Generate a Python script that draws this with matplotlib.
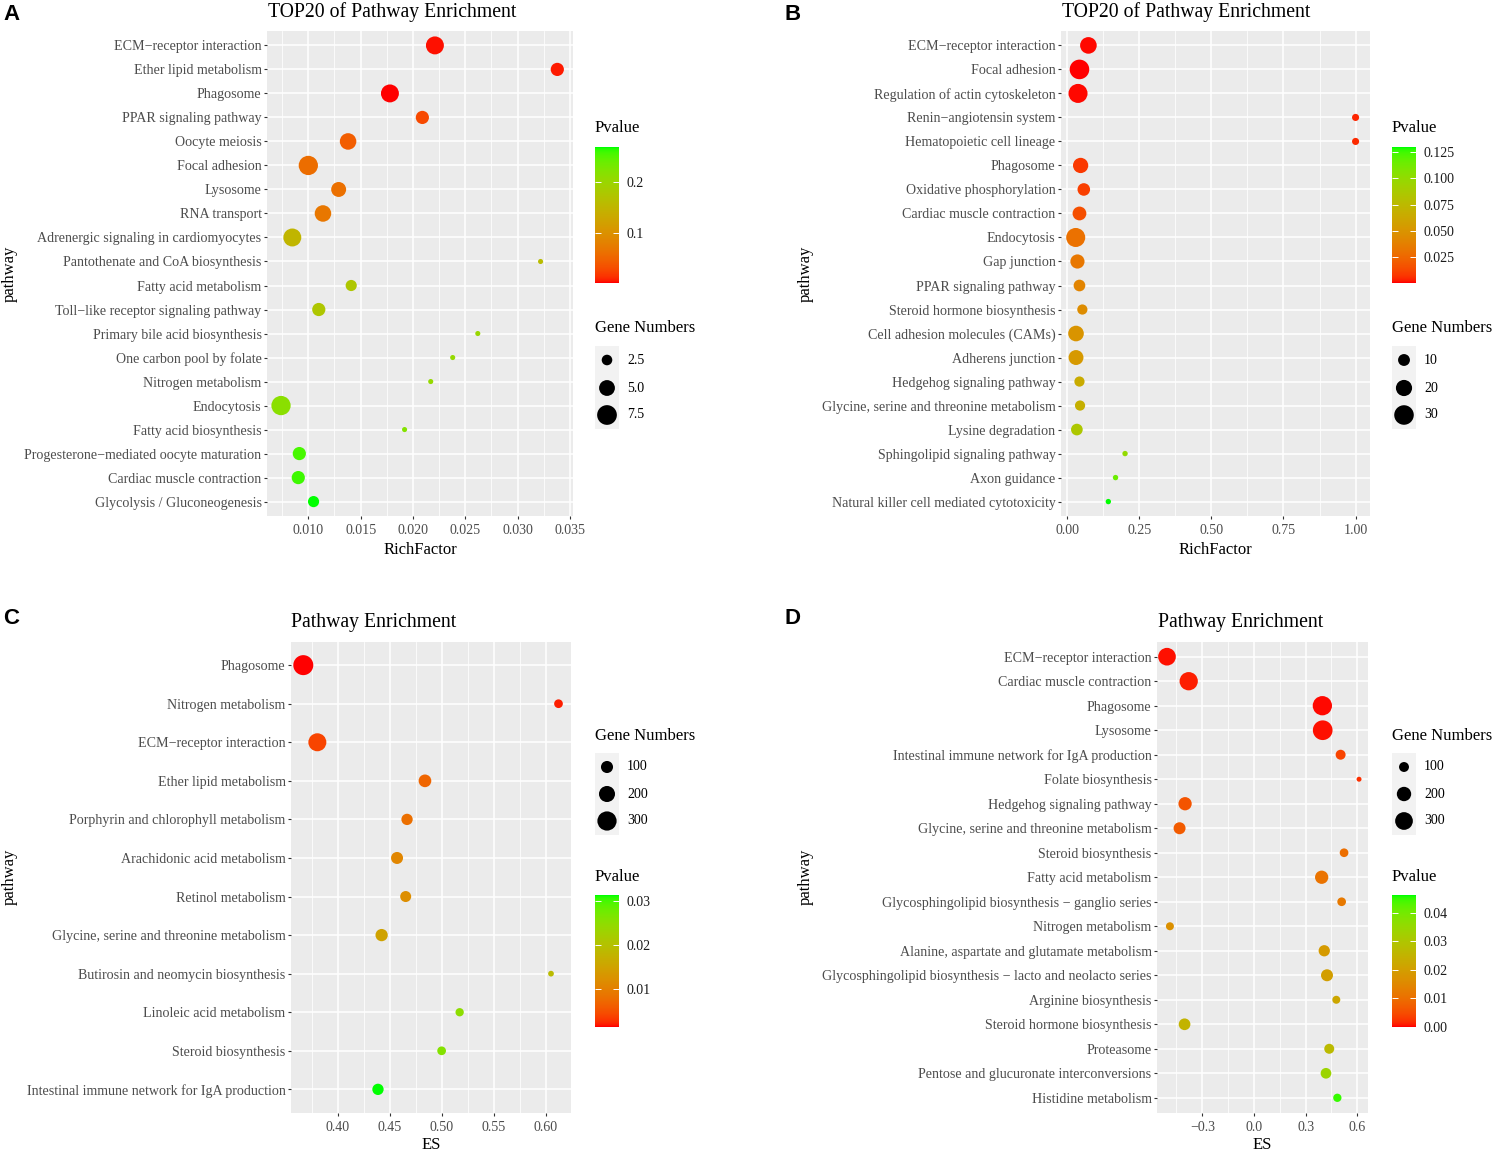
import numpy as np
import matplotlib
matplotlib.use('Agg')
import matplotlib.pyplot as plt
from matplotlib.colors import ListedColormap, Normalize
from matplotlib.patches import Rectangle
from matplotlib.ticker import MultipleLocator, FuncFormatter
from matplotlib.cm import ScalarMappable

plt.rcParams['font.family'] = ['Liberation Serif', 'DejaVu Serif']
plt.rcParams['axes.unicode_minus'] = True

# ---------------- data ----------------
a_labels = ["ECM−receptor interaction", "Ether lipid metabolism", "Phagosome", "PPAR signaling pathway",
            "Oocyte meiosis", "Focal adhesion", "Lysosome", "RNA transport",
            "Adrenergic signaling in cardiomyocytes", "Pantothenate and CoA biosynthesis",
            "Fatty acid metabolism", "Toll−like receptor signaling pathway", "Primary bile acid biosynthesis",
            "One carbon pool by folate", "Nitrogen metabolism", "Endocytosis", "Fatty acid biosynthesis",
            "Progesterone−mediated oocyte maturation", "Cardiac muscle contraction",
            "Glycolysis / Gluconeogenesis"]
a_rich = [0.0221, 0.0338, 0.0178, 0.0209, 0.0138, 0.0100, 0.0129, 0.0114, 0.00847, 0.0322,
          0.0141, 0.0110, 0.0262, 0.0238, 0.0217, 0.00739, 0.0192, 0.00914, 0.00904, 0.0105]
a_genes = [7, 4, 7, 4, 6, 8, 5, 6, 7, 1, 3, 4, 1, 1, 1, 8, 1, 4, 4, 3]
a_pval = [0.006, 0.008, 0.004, 0.03, 0.045, 0.06, 0.063, 0.07, 0.15, 0.16,
          0.175, 0.175, 0.2, 0.205, 0.205, 0.215, 0.22, 0.255, 0.258, 0.268]

b_labels = ["ECM−receptor interaction", "Focal adhesion", "Regulation of actin cytoskeleton",
            "Renin−angiotensin system", "Hematopoietic cell lineage", "Phagosome",
            "Oxidative phosphorylation", "Cardiac muscle contraction", "Endocytosis", "Gap junction",
            "PPAR signaling pathway", "Steroid hormone biosynthesis", "Cell adhesion molecules (CAMs)",
            "Adherens junction", "Hedgehog signaling pathway", "Glycine, serine and threonine metabolism",
            "Lysine degradation", "Sphingolipid signaling pathway", "Axon guidance",
            "Natural killer cell mediated cytotoxicity"]
b_rich = [0.074, 0.043, 0.038, 1.0, 1.0, 0.047, 0.058, 0.043, 0.030, 0.036,
          0.043, 0.053, 0.031, 0.031, 0.043, 0.045, 0.034, 0.201, 0.168, 0.143]
b_genes = [24, 34, 32, 3, 3, 20, 13, 16, 32, 17, 11, 8, 21, 19, 8, 8, 11, 1, 1, 1]
b_pval = [0.001, 0.0005, 0.001, 0.004, 0.005, 0.008, 0.01, 0.015, 0.03, 0.033,
          0.04, 0.045, 0.05, 0.053, 0.065, 0.068, 0.085, 0.1, 0.115, 0.13]

c_labels = ["Phagosome", "Nitrogen metabolism", "ECM−receptor interaction", "Ether lipid metabolism",
            "Porphyrin and chlorophyll metabolism", "Arachidonic acid metabolism", "Retinol metabolism",
            "Glycine, serine and threonine metabolism", "Butirosin and neomycin biosynthesis",
            "Linoleic acid metabolism", "Steroid biosynthesis",
            "Intestinal immune network for IgA production"]
c_es = [0.367, 0.612, 0.3805, 0.4838, 0.4666, 0.457, 0.4653, 0.4422, 0.6048, 0.5171, 0.4998, 0.4387]
c_genes = [370, 46, 294, 131, 98, 114, 91, 121, 3, 39, 46, 98]
c_pval = [0.0014, 0.002, 0.004, 0.007, 0.008, 0.011, 0.012, 0.015, 0.019, 0.025, 0.026, 0.0314]

d_labels = ["ECM−receptor interaction", "Cardiac muscle contraction", "Phagosome", "Lysosome",
            "Intestinal immune network for IgA production", "Folate biosynthesis",
            "Hedgehog signaling pathway", "Glycine, serine and threonine metabolism",
            "Steroid biosynthesis", "Fatty acid metabolism",
            "Glycosphingolipid biosynthesis − ganglio series", "Nitrogen metabolism",
            "Alanine, aspartate and glutamate metabolism",
            "Glycosphingolipid biosynthesis − lacto and neolacto series", "Arginine biosynthesis",
            "Steroid hormone biosynthesis", "Proteasome", "Pentose and glucuronate interconversions",
            "Histidine metabolism"]
d_es = [-0.505, -0.379, 0.397, 0.399, 0.503, 0.61, -0.40, -0.432, 0.523, 0.393,
        0.509, -0.488, 0.408, 0.424, 0.478, -0.403, 0.437, 0.418, 0.484]
d_genes = [334, 357, 396, 412, 112, 34, 192, 158, 87, 192, 87, 75, 141, 158, 75, 151, 112, 127, 80]
d_pval = [0.0005, 0.001, 0.0003, 0.0005, 0.004, 0.002, 0.006, 0.007, 0.01, 0.011,
          0.012, 0.017, 0.019, 0.02, 0.022, 0.025, 0.027, 0.034, 0.045]

a_size_breaks = [2.5, 5.0, 7.5]
b_size_breaks = [10, 20, 30]
c_size_breaks = [100, 200, 300]
d_size_breaks = [100, 200, 300]

# ---------------- colour map: red -> green interpolated in CIELAB ----------------
def srgb_to_lab(rgb):
    rgb = np.asarray(rgb, float)
    lin = np.where(rgb <= 0.04045, rgb / 12.92, ((rgb + 0.055) / 1.055) ** 2.4)
    M = np.array([[0.4124, 0.3576, 0.1805], [0.2126, 0.7152, 0.0722], [0.0193, 0.1192, 0.9505]])
    xyz = M @ lin / np.array([0.95047, 1.0, 1.08883])
    f = np.where(xyz > 0.008856, np.cbrt(xyz), 7.787 * xyz + 16 / 116)
    return np.array([116 * f[1] - 16, 500 * (f[0] - f[1]), 200 * (f[1] - f[2])])

def lab_to_srgb(lab):
    L, a, b = lab
    fy = (L + 16) / 116
    fx = fy + a / 500
    fz = fy - b / 200
    f = np.array([fx, fy, fz])
    xyz = np.where(f ** 3 > 0.008856, f ** 3, (f - 16 / 116) / 7.787) * np.array([0.95047, 1.0, 1.08883])
    Minv = np.linalg.inv(np.array([[0.4124, 0.3576, 0.1805], [0.2126, 0.7152, 0.0722], [0.0193, 0.1192, 0.9505]]))
    lin = np.clip(Minv @ xyz, 0, 1)
    rgb = np.where(lin <= 0.0031308, 12.92 * lin, 1.055 * lin ** (1 / 2.4) - 0.055)
    return np.clip(rgb, 0, 1)

lab_r = srgb_to_lab([1, 0, 0])
lab_g = srgb_to_lab([0, 1, 0])
cmap = ListedColormap([lab_to_srgb(lab_r + t * (lab_g - lab_r)) for t in np.linspace(0, 1, 256)])

# ---------------- layout helpers ----------------
W, H = 1500, 1154
fig = plt.figure(figsize=(15, 11.54), dpi=100)

def px_axes(x0, y0, x1, y1):
    return fig.add_axes([x0 / W, 1 - y1 / H, (x1 - x0) / W, (y1 - y0) / H])

ov = fig.add_axes([0, 0, 1, 1], zorder=10)
ov.set_xlim(0, W)
ov.set_ylim(H, 0)
ov.axis('off')

TICKC = '#4D4D4D'

def minus_fmt(fmt):
    return FuncFormatter(lambda v, pos: (fmt % v).replace('-', '\u2212'))

def panel(box, labels, x, genes, pval, areafn, norm, xlim, xticks, minor, fmt):
    ax = px_axes(*box)
    ax.set_facecolor('#EBEBEB')
    n = len(labels)
    y = np.arange(n)
    s = 0.5184 * areafn(np.asarray(genes, float))
    ax.scatter(x, y, s=s, c=pval, cmap=cmap, norm=norm, edgecolors='none', zorder=3)
    ax.set_xlim(*xlim)
    ax.set_ylim(n - 0.4, -0.6)
    ax.set_yticks(y)
    ax.set_yticklabels(labels)
    ax.set_xticks(xticks)
    ax.xaxis.set_major_formatter(minus_fmt(fmt))
    ax.xaxis.set_minor_locator(MultipleLocator(minor))
    ax.grid(which='major', color='white', lw=1.1)
    ax.grid(which='minor', axis='x', color='white', lw=0.55)
    ax.set_axisbelow(True)
    for sp in ax.spines.values():
        sp.set_visible(False)
    ax.tick_params(which='major', length=2.3, width=0.8, color='#333333',
                   labelsize=10.1, labelcolor=TICKC, pad=1.6)
    ax.tick_params(axis='x', which='major', pad=3.8)
    ax.tick_params(which='minor', length=0)
    return ax

def colorbar(box, norm, ticks, fmt):
    cax = px_axes(*box)
    sm = ScalarMappable(norm=norm, cmap=cmap)
    cb = fig.colorbar(sm, cax=cax, ticks=ticks, format=fmt)
    cb.outline.set_visible(False)
    cax.tick_params(direction='in', length=4.5, width=0.7, color='white',
                    labelsize=10, labelcolor='#1a1a1a', left=True, right=True, pad=5.5)

def size_legend(x0, y_title, ys, breaks, areafn):
    ov.text(x0, y_title, "Gene Numbers", fontsize=12, va='center', ha='left')
    ov.add_patch(Rectangle((x0, ys[0] - 14), 24, ys[-1] - ys[0] + 28, facecolor='#F2F2F2',
                           edgecolor='none'))
    ov.scatter([x0 + 12] * len(breaks), ys, s=0.5184 * areafn(np.asarray(breaks, float)) * 1.12,
               color='black', edgecolors='none')
    for yy, b in zip(ys, breaks):
        ov.text(x0 + 32, yy, f"{b:g}" if b >= 10 else f"{b:.1f}", fontsize=10, va='center', ha='left')

area_a = lambda c: 26 + 49.4 * (c - 1)
area_b = lambda c: 29 + 10.76 * (c - 1)
area_c = lambda c: 30 + 1.0 * c
area_d = lambda c: -8 + 0.96 * c

norm_a = Normalize(0.0033, 0.268)
norm_b = Normalize(0.0002, 0.130)
norm_c = Normalize(0.0014, 0.0314)
norm_d = Normalize(0.0, 0.0463)

# Panel A
panel((267, 31, 573, 516), a_labels, a_rich, a_genes, a_pval, area_a, norm_a,
      (0.00605, 0.0353), [0.010, 0.015, 0.020, 0.025, 0.030, 0.035], 0.0025, '%.3f')
# Panel B
panel((1061, 31, 1370, 516), b_labels, b_rich, b_genes, b_pval, area_b, norm_b,
      (-0.021, 1.05), [0.0, 0.25, 0.5, 0.75, 1.0], 0.125, '%.2f')
# Panel C
panel((291, 642, 571, 1112.5), c_labels, c_es, c_genes, c_pval, area_c, norm_c,
      (0.3552, 0.624), [0.40, 0.45, 0.50, 0.55, 0.60], 0.025, '%.2f')
# Panel D
panel((1157, 642, 1368, 1112.5), d_labels, d_es, d_genes, d_pval, area_d, norm_d,
      (-0.563, 0.662), [-0.3, 0.0, 0.3, 0.6], 0.15, '%.1f')

# titles, axis labels, panel letters
for (x, y, t) in [(268, 12.5, "TOP20 of Pathway Enrichment"), (1062, 12.5, "TOP20 of Pathway Enrichment"),
                  (291, 623, "Pathway Enrichment"), (1158, 623, "Pathway Enrichment")]:
    ov.text(x, y, t, fontsize=14.2, ha='left', va='center')
for (x, y, t) in [(420, 550, "RichFactor"), (1215.5, 550, "RichFactor"),
                  (431, 1145, "ES"), (1262.5, 1145, "ES")]:
    ov.text(x, y, t, fontsize=12, ha='center', va='center')
for (x, y) in [(10, 273.5), (806, 273.5), (10, 877), (806, 877)]:
    ov.text(x, y, "pathway", fontsize=12, ha='center', va='center', rotation=90)
for (x, y, t) in [(3, 14, "A"), (785, 14, "B"), (3, 618, "C"), (785, 618, "D")]:
    ov.text(x, y, t, fontsize=16, ha='left', va='center', fontweight='bold',
            family=['Liberation Sans', 'DejaVu Sans'])

# legends
ov.text(595, 128, "Pvalue", fontsize=12, va='center', ha='left')
colorbar((595, 147, 619, 283), norm_a, [0.1, 0.2], '%.1f')
size_legend(595, 328, [360, 388, 415], a_size_breaks, area_a)

ov.text(1392, 128, "Pvalue", fontsize=12, va='center', ha='left')
colorbar((1392, 147, 1416, 283), norm_b, [0.025, 0.05, 0.075, 0.1, 0.125], '%.3f')
size_legend(1392, 328, [360, 388, 415], b_size_breaks, area_b)

size_legend(595, 736, [767, 794, 821], c_size_breaks, area_c)
ov.text(595, 877, "Pvalue", fontsize=12, va='center', ha='left')
colorbar((595, 895, 619, 1027), norm_c, [0.01, 0.02, 0.03], '%.2f')

size_legend(1392, 736, [767, 794, 821], d_size_breaks, area_d)
ov.text(1392, 877, "Pvalue", fontsize=12, va='center', ha='left')
colorbar((1392, 895, 1416, 1027), norm_d, [0.0, 0.01, 0.02, 0.03, 0.04], '%.2f')

fig.savefig('out.png', dpi=100, facecolor='white')
